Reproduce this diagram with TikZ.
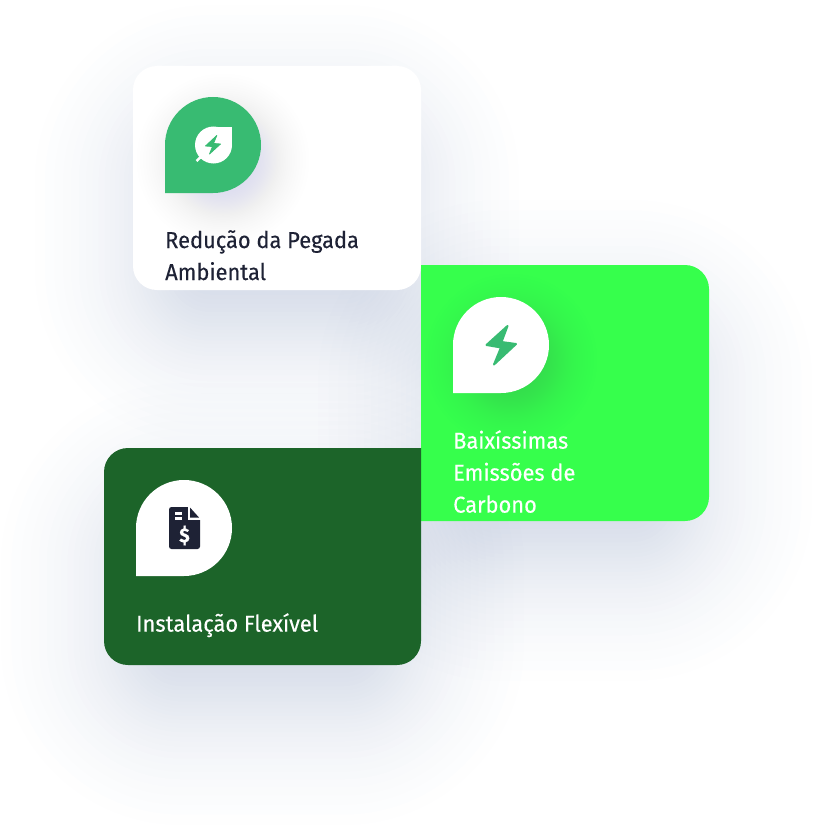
\documentclass[tikz,border=0pt]{standalone}
\usepackage{fontspec}
\setmainfont{Fira Sans}[FakeStretch=0.95,FakeBold=0.25]
\usetikzlibrary{positioning}
\definecolor{inkdark}{HTML}{1E2235}
\definecolor{leafgreen}{HTML}{38BB72}
\definecolor{limegreen}{HTML}{36FF4C}
\definecolor{forestgreen}{HTML}{1C6429}
\definecolor{shadowblue}{HTML}{5F78A8}
\definecolor{paleblue}{HTML}{C4D0F0}
\definecolor{glowgreen}{HTML}{34CF5C}
\definecolor{glowforest}{HTML}{2C8F48}
\tikzset{
  cardbox/.style={rounded corners=24},
  cardtext/.style={anchor=north west,align=left,inner sep=0pt,font=\fontsize{23}{32}\selectfont},
}
\newcommand{\softshadow}[8]{% x0 y0 x1 y1 radius spread opacity colour
  \foreach \k in {-20,...,20} {
    \pgfmathsetmacro{\d}{#6*(0.6*\k/20+0.4*(\k/20)*(\k/20)*(\k/20))}
    \pgfmathsetmacro{\r}{max(#5+\d,1)}
    \fill[#8,opacity=#7,rounded corners=\r pt]
      (#1-\d,#2-\d) rectangle (#3+\d,#4+\d);
  }
}
\newcommand{\dropshape}[3]{% corner x, corner y, colour
  \fill[#3] (#1,#2) -- (#1,#2-48) arc[start angle=180,end angle=450,radius=48] -- cycle;
}
\begin{document}
\begin{tikzpicture}[x=1pt,y=-1pt]
\useasboundingbox (0,0) rectangle (829,840);
% shadows
\softshadow{150}{120}{404}{330}{60}{115}{0.007}{shadowblue}
\softshadow{438}{320}{692}{561}{60}{120}{0.007}{shadowblue}
\softshadow{121}{503}{404}{705}{60}{120}{0.007}{shadowblue}
% cards
\fill[white,cardbox] (133,66) rectangle (421,290);
\fill[limegreen] (421,265) -- (685,265) arc[start angle=270,end angle=360,radius=24] -- (709,497) arc[start angle=0,end angle=90,radius=24] -- (421,521) -- cycle;
\fill[forestgreen] (421,448) -- (421,641) arc[start angle=0,end angle=90,radius=24] -- (128,665) arc[start angle=90,end angle=180,radius=24] -- (104,472) arc[start angle=180,end angle=270,radius=24] -- cycle;
% drop glow
\softshadow{175}{112}{271}{208}{48}{38}{0.012}{paleblue}
\softshadow{463}{312}{559}{408}{48}{38}{0.012}{glowgreen}
\softshadow{146}{495}{242}{591}{48}{38}{0.012}{glowforest}
% drops
\dropshape{165}{193}{leafgreen}
\dropshape{453}{393}{white}
\dropshape{136}{576}{white}
% leaf icon
\fill[white] (213.5,145) circle[radius=18.5];
\fill[white] (213.5,127) rectangle (232,145);
\draw[white,line width=2.5pt] (203,155) -- (196.5,161);
\fill[leafgreen,draw=leafgreen,line width=0.8pt,line join=round] (216.8,135.5) -- (205.5,146) -- (212.5,146.5) -- (209.5,154) -- (220.5,144) -- (213.5,143.5) -- cycle;
% bolt icon
\fill[leafgreen,draw=leafgreen,line width=2pt,line join=round] (507.5,326) -- (486.5,345) -- (501,347.5) -- (494,364.5) -- (516,344) -- (501.5,342) -- cycle;
% file icon
\fill[inkdark,rounded corners=2.5pt] (169,507) rectangle (200,549);
\fill[white] (188,506) -- (201,506) -- (201,520) -- (188,520) -- cycle;
\fill[inkdark] (190,507.5) -- (199,517.5) -- (190,517.5) -- cycle;
\fill[white] (174.5,512) rectangle (182,514.5);
\fill[white] (174.5,517) rectangle (182,519.5);
\node[text=white,font=\bfseries\fontsize{20}{20}\selectfont,inner sep=0pt] (dollar) at (184.5,535.5) {\$};
% labels
\node[cardtext,text=inkdark] (redlabel) at (165,230) {Redução da Pegada\\Ambiental};
\node[cardtext,text=white] (limelabel) at (453,430) {Baixíssimas\\Emissões de\\Carbono};
\node[cardtext,text=white] (flexlabel) at (136,613) {Instalação Flexível};
\end{tikzpicture}
\end{document}
